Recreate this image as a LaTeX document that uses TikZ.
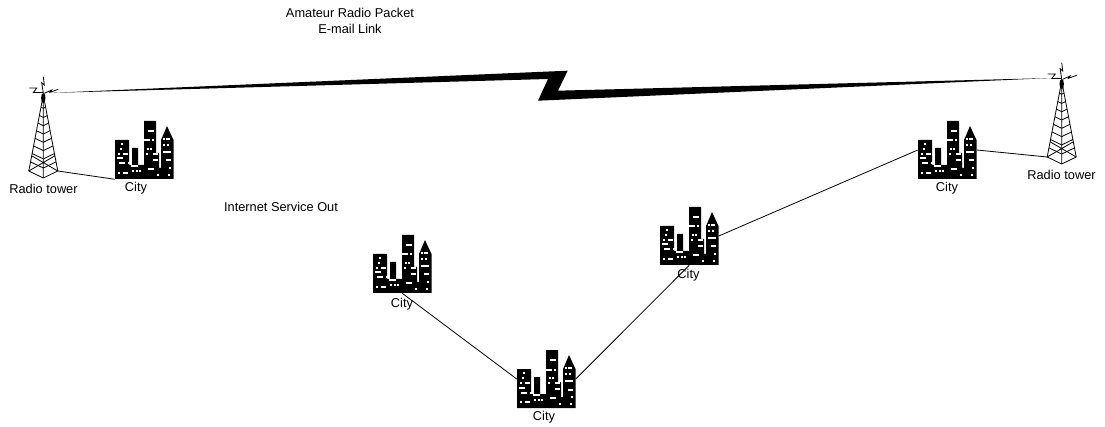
\documentclass[tikz,border=0pt]{standalone}
\usepackage{fontspec}
\setmainfont{Liberation Sans}
\usetikzlibrary{positioning}
\tikzset{
    lbl/.style={font=\fontsize{9.6}{12}\selectfont, inner sep=0pt, align=center},
    linkline/.style={line width=0.6pt},
    citybox/.style={minimum width=43.9pt, minimum height=43.5pt, inner sep=0pt},
    cityblock/.pic={
        \fill (0,19) -- (14,19) -- (14,44) -- (17,44) -- (17,27) -- (23,27) -- (23,44)
            -- (29,44) -- (29,0) -- (41,0) -- (41,32) -- (44,32) -- (44,47) -- (46,47)
            -- (46,19) -- (52,5) -- (58.5,19) -- (58.5,58) -- (0,58) -- cycle;
        % Windows
        \foreach \x/\y/\w in {5.7/22.3/2, 5/27/2, 3/32/2, 7.7/31.7/5.5, 2.3/36.5/5.5, 4.3/41.5/6,
            13/41.5/2, 2.7/51/2, 7.7/51/5.5, 16/44/6.5, 17/49/2, 20.5/49/2, 24/49/2, 33.3/8.7/6,
            29/18.5/6, 36.5/18.5/2, 32/27/2, 35/27/2, 31/32/2, 38.3/32/5, 38.3/38/5, 33.3/47/6,
            42.3/53/2, 48/17/2, 50.5/17/2, 53/17/2, 48/23/2, 52/23/2, 47.7/30/8, 50.7/38.5/5,
            54/46/2, 52.7/53/2}
            \fill[white] (\x,\y) rectangle ++(\w,2);
        \node[citybox] (-box) at (29.25,29) {};
    },
    radiotower/.pic={
        % Legs
        \draw[linkline] (-14.5,76) -- (0,0) -- (14.5,76) (0,0) -- (0,83);
        \foreach \t in {0.16,0.27,0.37,0.47,0.57,0.67,0.77,0.88,1}
            \draw[linkline] (-14.5*\t,76*\t) -- (0,83*\t) -- (14.5*\t,76*\t);
        \draw[linkline] (-14.5,76) -- (11.6,60.8) (14.5,76) -- (-11.6,60.8);
        \fill (0,3) ellipse (2.2 and 5);
        % Antenna
        \draw[linkline] (-14,-7) -- (-6.5,-7) -- (-10,-2.4) -- (-0.5,-2.4);
        \draw[linkline] (1,-1.7) -- (8.4,-5) -- (6.7,-2.7) -- (15,-5.7);
        \draw[linkline] (0,-2) -- (-1.6,-12.3) -- (1,-10) -- (0,-18.3);
        \coordinate (-footl) at (-14.5,76);
        \coordinate (-footr) at (14.5,76);
        \coordinate (-eastbolt) at (5,-2);
        \coordinate (-westbolt) at (-9.7,-3);
    }
}
\begin{document}
\begin{tikzpicture}[x=0.75pt, y=-0.75pt]
    \useasboundingbox (0,0) rectangle (1105,427);

    % Towers and cities
    \pic (tw1) at (43.3,95) {radiotower};
    \pic (tw2) at (1061.7,81) {radiotower};
    \pic (ct1) at (115,121) {cityblock};
    \pic (ct2) at (373,235) {cityblock};
    \pic (ct3) at (517,350) {cityblock};
    \pic (ct4) at (660,207) {cityblock};
    \pic (ct5) at (918,121) {cityblock};

    % Labels
    \node[lbl] (title) at (350,20.5) {Amateur Radio Packet\\E-mail Link};
    \node[lbl] (outage) at (281,206.5) {Internet Service Out};
    \node[lbl] (tw1 label) at (43.5,188.5) {Radio tower};
    \node[lbl] (tw2 label) at (1061.5,174.5) {Radio tower};
    \node[lbl] (ct1 label) at (136,188.5) {City};
    \node[lbl] (ct2 label) at (402,304.5) {City};
    \node[lbl] (ct3 label) at (544,417.5) {City};
    \node[lbl] (ct4 label) at (688.5,275.5) {City};
    \node[lbl] (ct5 label) at (947,188.5) {City};

    % Packet link
    \fill (tw1-eastbolt) -- (567.7,70.7) -- (558,90.7) -- (tw2-westbolt)
        -- (538,100.7) -- (548,79) -- cycle;

    % Wired links
    \draw[linkline] (tw1-footr) -- (ct1-box.south west);
    \draw[linkline] (ct2-box.south) -- (ct3-box.west);
    \draw[linkline] (ct3-box.east) -- (ct4-box.south);
    \draw[linkline] (ct4-box.east) -- (ct5-box.west);
    \draw[linkline] (ct5-box.east) -- (tw2-footl);
\end{tikzpicture}
\end{document}
